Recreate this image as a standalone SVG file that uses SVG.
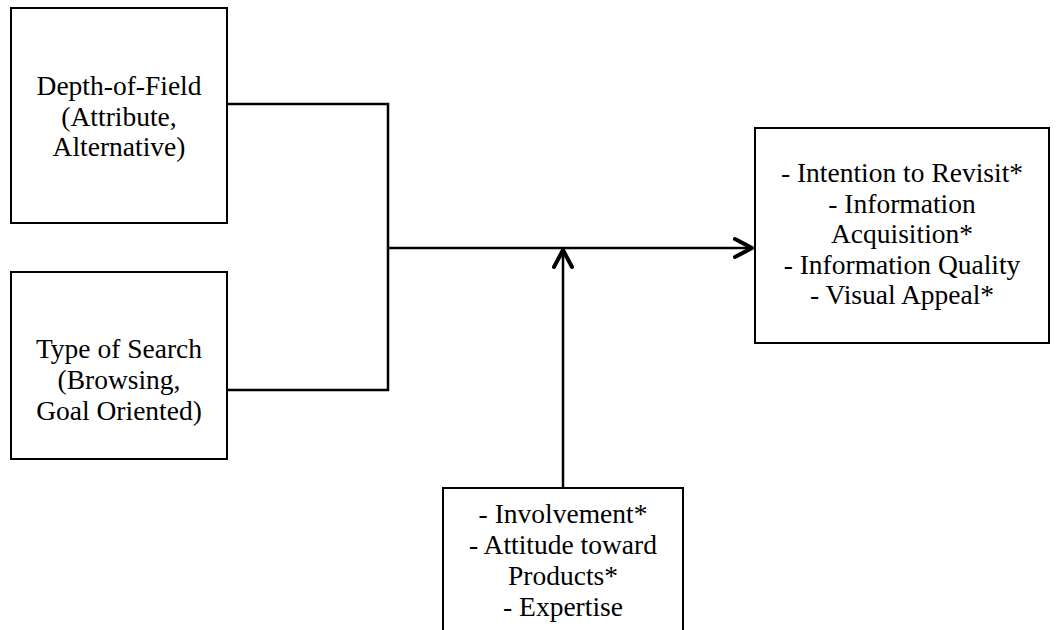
<svg xmlns="http://www.w3.org/2000/svg" width="1056" height="630" viewBox="0 0 1056 630">
<style>
.box{fill:#fff;stroke:#000;stroke-width:2}
.t{font-family:"Liberation Serif",serif;font-size:27.5px;fill:#000;text-anchor:middle}
.c{fill:none;stroke:#000;stroke-width:2.5}
.ah{fill:none;stroke:#000;stroke-width:4;stroke-linecap:round;stroke-linejoin:round}
</style>
<rect width="1056" height="630" fill="#fff"/>
<g id="connectors">
<polyline class="c" points="227,104 388,104 388,390 227,390"/>
<line class="c" x1="388" y1="248" x2="753" y2="248"/>
<polyline class="ah" points="735,239 752,248 735,257"/>
<line class="c" x1="563" y1="488" x2="563" y2="250"/>
<polyline class="ah" points="554,267 563,250 572,267"/>
</g>
<g id="node-depth">
<rect class="box" x="11" y="8" width="216" height="215"/>
<text class="t" x="119" y="95">Depth-of-Field</text>
<text class="t" x="119" y="126">(Attribute,</text>
<text class="t" x="119" y="156">Alternative)</text>
</g>
<g id="node-search">
<rect class="box" x="11" y="272" width="216" height="187"/>
<text class="t" x="119" y="358">Type of Search</text>
<text class="t" x="119" y="389">(Browsing,</text>
<text class="t" x="119" y="420">Goal Oriented)</text>
</g>
<g id="node-outcomes">
<rect class="box" x="755" y="128" width="294" height="215"/>
<text class="t" x="902" y="182">- Intention to Revisit*</text>
<text class="t" x="902" y="213">- Information</text>
<text class="t" x="902" y="243">Acquisition*</text>
<text class="t" x="902" y="274">- Information Quality</text>
<text class="t" x="902" y="304">- Visual Appeal*</text>
</g>
<g id="node-moderators">
<rect class="box" x="443" y="488" width="240" height="160"/>
<text class="t" x="563" y="523">- Involvement*</text>
<text class="t" x="563" y="554">- Attitude toward</text>
<text class="t" x="563" y="585">Products*</text>
<text class="t" x="563" y="616">- Expertise</text>
</g>
</svg>
